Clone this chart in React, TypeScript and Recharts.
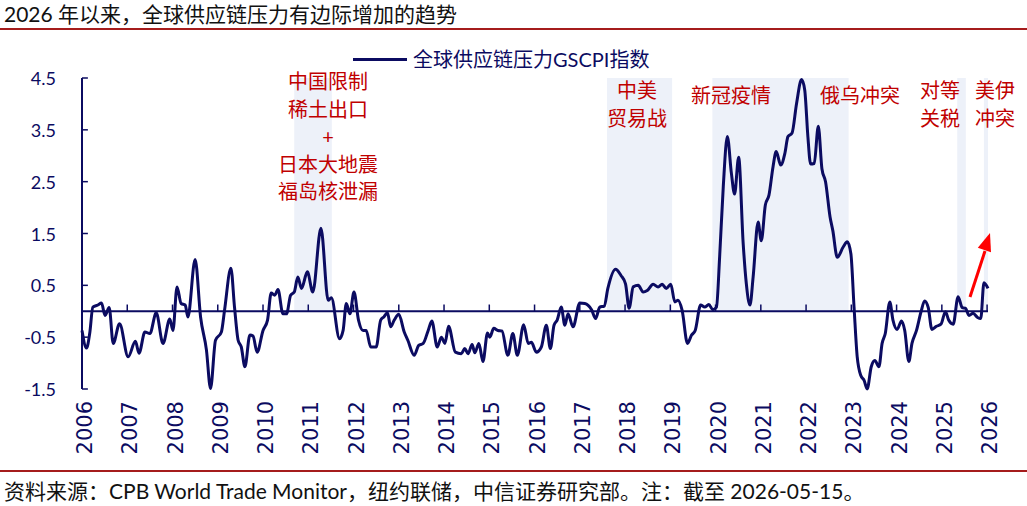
import React from "react";
import { LineChart, Line, XAxis, YAxis, ReferenceArea, ReferenceLine } from "recharts";

const NAVY = "#0B0B61";
const RED = "#C00000";
const SHADE = "#EDF1F9";
const CJK = "Lato, 'Noto Sans CJK SC', sans-serif";

// decimal year of each reading
const dates = [
  2006.0, 2006.1, 2006.17, 2006.24, 2006.35, 2006.43, 2006.51, 2006.6, 2006.69, 2006.83,
  2007.02, 2007.18, 2007.26, 2007.39, 2007.5, 2007.64, 2007.79, 2007.94,
  2008.01, 2008.1, 2008.19, 2008.28, 2008.34, 2008.5, 2008.62, 2008.75, 2008.84, 2008.95,
  2009.08, 2009.15, 2009.29, 2009.37, 2009.45, 2009.52, 2009.6, 2009.71, 2009.78, 2009.87,
  2010.0, 2010.1, 2010.18, 2010.26, 2010.33, 2010.44, 2010.52, 2010.61, 2010.69, 2010.77, 2010.85, 2010.98,
  2011.1, 2011.28, 2011.44, 2011.51, 2011.69, 2011.77, 2011.84, 2011.92,
  2012.01, 2012.11, 2012.21, 2012.28, 2012.38, 2012.5, 2012.6, 2012.67, 2012.75, 2012.82, 2012.9,
  2013.0, 2013.12, 2013.2, 2013.34, 2013.44, 2013.54, 2013.65, 2013.73, 2013.85, 2013.94,
  2014.02, 2014.1, 2014.25, 2014.38, 2014.46, 2014.53, 2014.62, 2014.68, 2014.77, 2014.86, 2014.96,
  2015.01, 2015.1, 2015.19, 2015.28, 2015.41, 2015.52, 2015.62, 2015.76, 2015.86, 2015.93,
  2016.04, 2016.15, 2016.26, 2016.35, 2016.43, 2016.5, 2016.59, 2016.67, 2016.74, 2016.85,
  2017.0, 2017.11, 2017.26, 2017.35, 2017.44, 2017.54, 2017.62, 2017.79, 2017.91,
  2018.01, 2018.09, 2018.18, 2018.29, 2018.4, 2018.49, 2018.62, 2018.73, 2018.82, 2018.91,
  2019.01, 2019.1, 2019.17, 2019.26, 2019.38, 2019.47, 2019.55, 2019.67, 2019.76, 2019.85, 2019.94,
  2020.02, 2020.09, 2020.17, 2020.26, 2020.35, 2020.42, 2020.51, 2020.61, 2020.68, 2020.76, 2020.83, 2020.94,
  2021.01, 2021.1, 2021.18, 2021.27, 2021.34, 2021.44, 2021.53, 2021.6, 2021.69, 2021.79, 2021.9, 2021.97,
  2022.04, 2022.1, 2022.18, 2022.27, 2022.35, 2022.43, 2022.53, 2022.59, 2022.69, 2022.82, 2022.91, 2022.99,
  2023.06, 2023.13, 2023.21, 2023.28, 2023.35, 2023.44, 2023.52, 2023.61, 2023.68, 2023.75, 2023.85, 2023.92,
  2024.01, 2024.11, 2024.18, 2024.27, 2024.34, 2024.44, 2024.54, 2024.62, 2024.7, 2024.78, 2024.88, 2024.98,
  2025.08, 2025.15, 2025.25, 2025.36, 2025.45, 2025.52, 2025.6, 2025.69, 2025.79, 2025.86, 2025.93,
  2026.02,
];

const gscpi = [
  -0.37, -0.71, -0.43, 0.08, 0.12, 0.16, -0.08, 0.07, -0.62, -0.24,
  -0.88, -0.58, -0.81, -0.4, -0.43, -0.03, -0.62, -0.15,
  -0.37, 0.47, 0.15, 0.12, -0.11, 1.0, -0.11, -0.75, -1.49, -0.56,
  -0.4, 0.02, 0.83, 0.08, -0.56, -0.69, -1.07, -0.46, -0.48, -0.79,
  -0.37, -0.17, 0.35, 0.31, 0.42, -0.05, -0.05, 0.31, 0.37, 0.66, 0.44, 0.76,
  0.37, 1.6, 0.21, 0.26, -0.53, -0.37, 0.15, -0.05,
  0.37, -0.17, -0.37, -0.37, -0.69, -0.69, -0.17, -0.11, -0.03, -0.3, -0.17,
  -0.06, -0.4, -0.56, -0.85, -0.66, -0.62, -0.37, -0.19, -0.69, -0.5,
  -0.62, -0.29, -0.79, -0.82, -0.72, -0.82, -0.64, -0.8, -0.62, -0.97, -0.42,
  -0.5, -0.33, -0.37, -0.38, -0.85, -0.43, -0.85, -0.26, -0.62, -0.6,
  -0.79, -0.69, -0.27, -0.72, -0.27, -0.17, 0.08, -0.27, -0.05, -0.3,
  0.16, 0.15, 0.03, -0.14, 0.08, 0.1, 0.44, 0.81, 0.69,
  0.53, 0.06, 0.47, 0.5, 0.37, 0.4, 0.52, 0.47, 0.52, 0.44,
  0.52, 0.18, 0.21, 0.02, -0.62, -0.46, -0.37, 0.12, 0.08, 0.13, 0.03,
  0.08, 1.05, 2.4, 3.37, 2.66, 2.26, 2.97, 1.31, 0.53, 0.12, 0.66, 1.72,
  1.36, 2.05, 2.24, 2.79, 3.08, 2.82, 3.04, 3.37, 3.44, 4.01, 4.47, 4.27,
  3.37, 2.84, 2.85, 3.57, 2.75, 2.5, 1.82, 1.56, 1.04, 1.24, 1.34, 1.11,
  0.08, -0.88, -1.24, -1.33, -1.5, -1.07, -0.95, -1.07, -0.62, -0.43, 0.18, -0.17,
  -0.35, -0.19, -0.37, -0.97, -0.62, -0.37, -0.01, 0.2, 0.07, -0.35, -0.29, -0.25,
  -0.01, -0.17, -0.25, 0.28, 0.07, 0.06, -0.08, -0.04, -0.12, -0.14, 0.55,
  0.44,
];

const yearTicks = [
  2006, 2007, 2008, 2009, 2010, 2011, 2012, 2013, 2014, 2015, 2016,
  2017, 2018, 2019, 2020, 2021, 2022, 2023, 2024, 2025, 2026,
];
const valueTicks = [-1.5, -0.5, 0.5, 1.5, 2.5, 3.5, 4.5];

// shaded event windows
const eventStarts = [2010.69, 2017.6, 2019.93, 2025.34, 2025.93];
const eventEnds = [2011.52, 2019.04, 2022.94, 2025.53, 2026.02];

const data = dates.map((t, i) => ({ t, v: gscpi[i] }));

const YearTick = ({ x, y, payload }: any) => {
  const tx = x + 3;
  const ty = y + 4;
  return (
    <text
      x={tx}
      y={ty}
      transform={`rotate(-90 ${tx} ${ty})`}
      textAnchor="end"
      dominantBaseline="central"
      fill={NAVY}
      fontSize={21}
      fontFamily="'DejaVu Sans', sans-serif"
    >
      {payload.value}
    </text>
  );
};

const ValueTick = ({ x, y, payload }: any) => (
  <text
    x={x}
    y={y}
    textAnchor="end"
    dominantBaseline="central"
    fill={NAVY}
    fontSize={18}
    fontFamily="Lato, sans-serif"
  >
    {payload.value.toFixed(1)}
  </text>
);

const noteStyle = (center: number, top: number): React.CSSProperties => ({
  position: "absolute",
  left: center - 70,
  top,
  width: 140,
  textAlign: "center",
  color: RED,
  fontSize: 20,
  lineHeight: "27.5px",
  fontFamily: CJK,
});

export default function App() {
  return (
    <div
      style={{
        position: "absolute",
        left: 0,
        top: 0,
        width: 1027,
        height: 506,
        background: "#fff",
        overflow: "hidden",
        fontFamily: CJK,
      }}
    >
      <div
        style={{
          position: "absolute",
          left: 4,
          top: 1,
          fontSize: 21,
          lineHeight: "26px",
          color: "#111",
          whiteSpace: "nowrap",
        }}
      >
        2026 年以来，全球供应链压力有边际增加的趋势
      </div>
      <div style={{ position: "absolute", left: 0, top: 28, width: 1027, height: 2, background: "#A51C1C" }} />

      <LineChart
        width={1027}
        height={506}
        data={data}
        margin={{ top: 78, right: 39, bottom: 47, left: 22 }}
        style={{ position: "absolute", left: 0, top: 0 }}
      >
        {eventStarts.map((s, i) => (
          <ReferenceArea
            key={s}
            x1={s}
            x2={eventEnds[i]}
            y1={0}
            y2={4.5}
            fill={SHADE}
            fillOpacity={1}
            stroke="none"
          />
        ))}
        <XAxis
          dataKey="t"
          type="number"
          domain={[2006, 2026.02]}
          ticks={yearTicks}
          interval={0}
          axisLine={false}
          tickLine={false}
          height={70}
          tick={<YearTick />}
        />
        <YAxis
          type="number"
          domain={[-1.5, 4.5]}
          ticks={valueTicks}
          interval={0}
          width={60}
          axisLine={{ stroke: NAVY, strokeWidth: 2 }}
          tickLine={false}
          tickSize={6}
          tickMargin={20}
          tick={<ValueTick />}
        />
        <ReferenceLine y={0} stroke={NAVY} strokeWidth={2} />
        {yearTicks.map((yr) => (
          <ReferenceLine
            key={"xt" + yr}
            segment={[
              { x: yr, y: 0 },
              { x: yr, y: 0.13 },
            ]}
            stroke={NAVY}
            strokeWidth={1.5}
          />
        ))}
        {valueTicks.map((v) => (
          <ReferenceLine
            key={"yt" + v}
            segment={[
              { x: 2006, y: v },
              { x: 2006.13, y: v },
            ]}
            stroke={NAVY}
            strokeWidth={1.5}
          />
        ))}
        <Line
          type="monotone"
          dataKey="v"
          stroke={NAVY}
          strokeWidth={3}
          dot={false}
          isAnimationActive={false}
        />
      </LineChart>

      {/* legend */}
      <div style={{ position: "absolute", left: 353, top: 58, width: 54, height: 3, background: NAVY }} />
      <div style={{ position: "absolute", left: 413, top: 45, fontSize: 20, color: NAVY, whiteSpace: "nowrap", lineHeight: "28px" }}>
        全球供应链压力GSCPI指数
      </div>

      {/* event notes */}
      <div style={noteStyle(328, 68)}>
        中国限制
        <br />
        稀土出口
        <br />+<br />
        日本大地震
        <br />
        福岛核泄漏
      </div>
      <div style={noteStyle(637, 77)}>
        中美
        <br />
        贸易战
      </div>
      <div style={noteStyle(731, 82)}>新冠疫情</div>
      <div style={noteStyle(860, 82)}>俄乌冲突</div>
      <div style={noteStyle(940, 77)}>
        对等
        <br />
        关税
      </div>
      <div style={noteStyle(995, 77)}>
        美伊
        <br />
        冲突
      </div>

      <svg width={1027} height={506} style={{ position: "absolute", left: 0, top: 0, pointerEvents: "none" }}>
        <line x1={970} y1={297} x2={985} y2={251} stroke="#FF0000" strokeWidth={3} />
        <polygon points="990,233 977.8,247.8 991,252.2" fill="#FF0000" />
      </svg>

      <div style={{ position: "absolute", left: 0, top: 470, width: 1027, height: 2, background: "#A51C1C" }} />
      <div
        style={{
          position: "absolute",
          left: 4,
          top: 478,
          fontSize: 21,
          lineHeight: "26px",
          color: "#111",
          whiteSpace: "nowrap",
        }}
      >
        资料来源：CPB World Trade Monitor，纽约联储，中信证券研究部。注：截至 2026-05-15。
      </div>
    </div>
  );
}
